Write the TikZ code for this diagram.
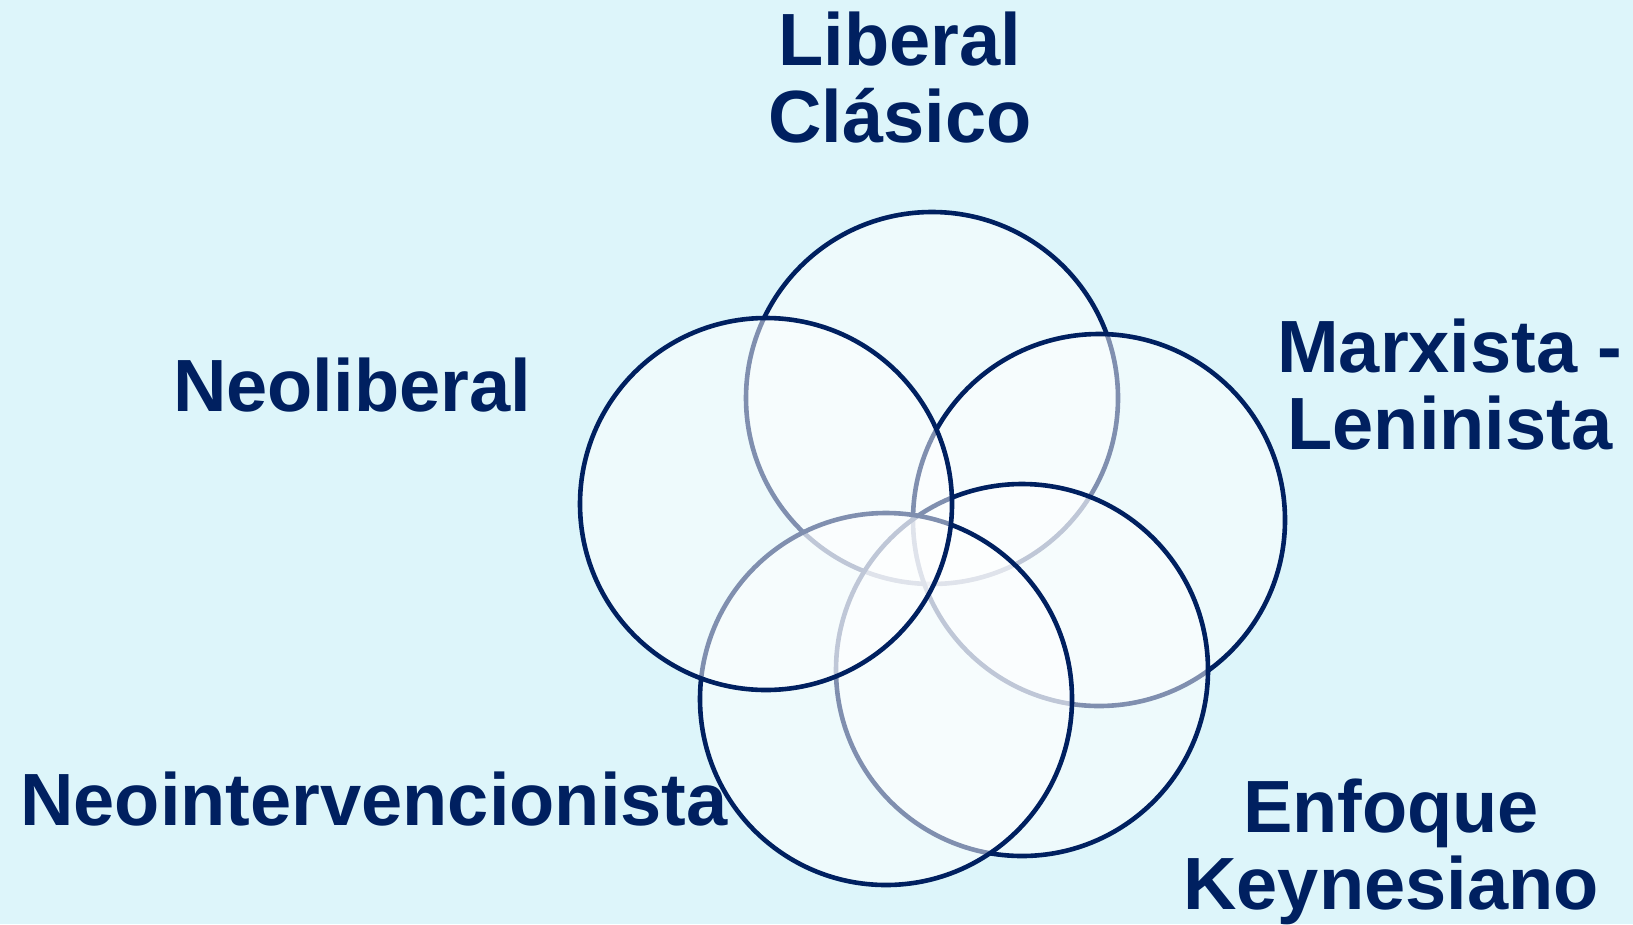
\documentclass[tikz,border=0pt]{standalone}
\usepackage{fontspec}
\setmainfont{Liberation Sans}
\definecolor{navy}{HTML}{002060}
\definecolor{bgc}{HTML}{DDF5FA}
\begin{document}
\begin{tikzpicture}[x=1pt,y=-1pt,
  venn/.style={circle, draw=navy, line width=4.6pt, fill=white, fill opacity=0.5,
               minimum size=372pt, inner sep=0pt},
  lbl/.style={text=navy, font=\fontsize{74}{77}\selectfont\bfseries,
              inner sep=0pt, anchor=base}]
\fill[bgc] (0,0) rectangle (1633,924);
\useasboundingbox (0,0) rectangle (1633,924);
% circles, drawn in stacking order
\node[venn] (lib) at (932,398) {};
\node[venn] (mar) at (1099,520) {};
\node[venn] (key) at (1022,670) {};
\node[venn] (neoi) at (886,699) {};
\node[venn] (neol) at (766,504) {};
% labels
\node[lbl] (tlib) at (900,65) {\begin{tabular}[t]{@{}c@{}}Liberal\\Clásico\end{tabular}};
\node[lbl] (tneol) at (352,411) {Neoliberal};
\node[lbl] (tmar) at (1450,372) {\begin{tabular}[t]{@{}c@{}}Marxista -\\Leninista\end{tabular}};
\node[lbl] (tneoi) at (374,825) {Neointervencionista};
\node[lbl] (tkey) at (1391,832) {\begin{tabular}[t]{@{}c@{}}Enfoque\\Keynesiano\end{tabular}};
\end{tikzpicture}
\end{document}
